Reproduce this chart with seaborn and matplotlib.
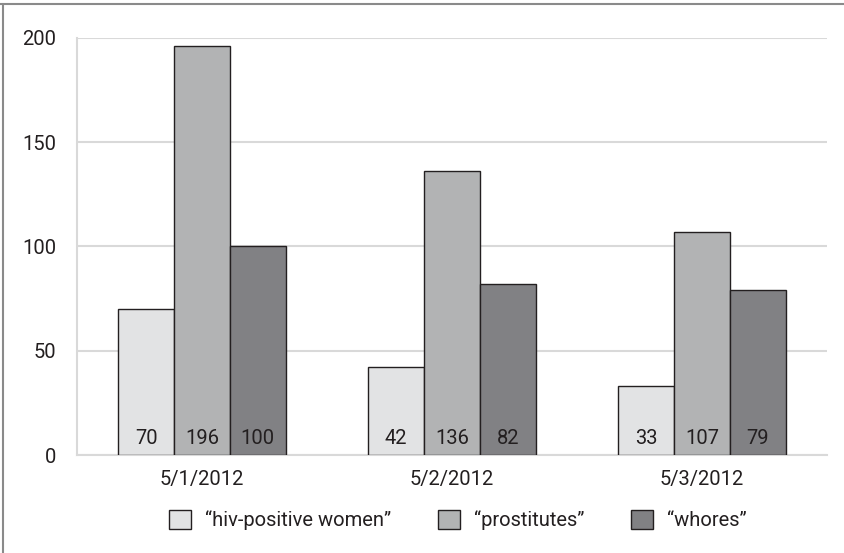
import matplotlib.pyplot as plt
import pandas as pd
import seaborn as sns
from matplotlib.lines import Line2D

dates = ["5/1/2012", "5/2/2012", "5/3/2012"]
terms = ["\u201chiv-positive women\u201d", "\u201cprostitutes\u201d", "\u201cwhores\u201d"]
hiv_women = [70, 42, 33]
prostitutes = [196, 136, 107]
whores = [100, 82, 79]
colors = ["#e2e3e4", "#b2b3b4", "#808184"]

df = pd.DataFrame(
    {
        "date": dates * 3,
        "term": [terms[0]] * 3 + [terms[1]] * 3 + [terms[2]] * 3,
        "count": hiv_women + prostitutes + whores,
    }
)

sns.set_style("white")
plt.rcParams["font.family"] = ["Roboto", "DejaVu Sans"]
text_color = "#231f20"
grid_color = "#d9d9d9"
fs = 14.5

fig = plt.figure(figsize=(8.45, 5.53), dpi=100)
ax = fig.add_axes([0.0911, 0.1772, 0.8876, 0.7541])

sns.barplot(
    data=df,
    x="date",
    y="count",
    hue="term",
    order=dates,
    hue_order=terms,
    palette=colors,
    width=0.67,
    gap=0,
    edgecolor=text_color,
    linewidth=1.0,
    errorbar=None,
    ax=ax,
    zorder=3,
)

# value labels sitting at the bottom of each bar
for container in ax.containers:
    for patch in container:
        ax.text(
            patch.get_x() + patch.get_width() / 2,
            3.5,
            f"{patch.get_height():.0f}",
            ha="center",
            va="bottom",
            fontsize=fs,
            color=text_color,
            zorder=4,
        )

ax.set_xlim(-0.5, 2.5)
ax.set_ylim(0, 200)
ax.set_yticks([0, 50, 100, 150, 200])
ax.yaxis.grid(True, color=grid_color, linewidth=1.5, zorder=0)
ax.set_xlabel("")
ax.set_ylabel("")

for side in ["top", "right"]:
    ax.spines[side].set_visible(False)
ax.spines["left"].set_color(grid_color)
ax.spines["left"].set_linewidth(1.5)
ax.spines["bottom"].set_color(grid_color)
ax.spines["bottom"].set_linewidth(1.5)

ax.tick_params(axis="y", length=10, width=1.5, color=grid_color, labelsize=fs,
               labelcolor=text_color, pad=5)
ax.tick_params(axis="x", which="major", length=0, labelsize=fs,
               labelcolor=text_color, pad=11)
ax.set_xticks([-0.5, 0.5, 1.5, 2.5], minor=True)
ax.tick_params(axis="x", which="minor", length=11, width=1.5, color=grid_color)

ax.legend(
    loc="upper center",
    bbox_to_anchor=(0.508, -0.088),
    ncol=3,
    frameon=False,
    fontsize=fs,
    handlelength=1.1,
    handleheight=1.1,
    handletextpad=0.7,
    columnspacing=2.3,
    labelcolor=text_color,
)

# frame lines on the top and left edges of the picture
fig.add_artist(Line2D([0, 1], [0.993, 0.993], transform=fig.transFigure,
                      color="#8a8a8a", linewidth=1.5))
fig.add_artist(Line2D([0.004, 0.004], [0, 0.993], transform=fig.transFigure,
                      color="#8a8a8a", linewidth=1.5))

fig.savefig("out.png", dpi=100)
